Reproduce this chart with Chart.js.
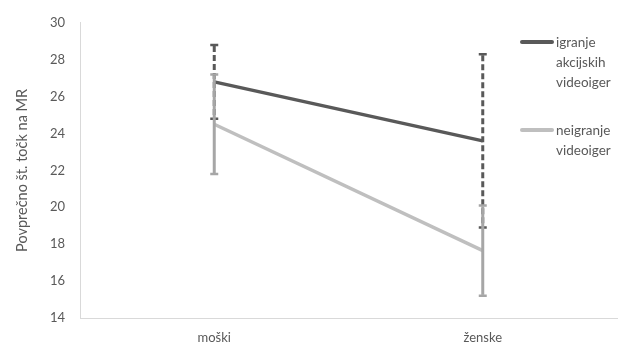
<!DOCTYPE html>
<html>
<head>
<meta charset="utf-8">
<script src="https://cdn.jsdelivr.net/npm/chart.js@4/dist/chart.umd.min.js"></script>
<style>
  html, body { margin: 0; padding: 0; background: #fff; }
  #wrap { position: relative; width: 624px; height: 347px; }
  #legend { position: absolute; left: 520px; top: 0; font-family: Lato, "Open Sans", sans-serif; font-size: 13.5px; color: #595959; }
  .item { position: absolute; left: 0; white-space: nowrap; }
  .swatch { position: absolute; left: 0; width: 34px; height: 4px; border-radius: 2px; }
  .txt { position: absolute; left: 36px; line-height: 20px; }
</style>
</head>
<body>
<div id="wrap">
  <canvas id="c" width="624" height="347"></canvas>
  <div id="legend"></div>
</div>
<script>
// categories and series
const categories = ['moški', 'ženske'];
const seriesNames = [['igranje', 'akcijskih', 'videoiger'], ['neigranje', 'videoiger']];
const gamersMean = [26.8, 23.6];
const gamersErr = [2.0, 4.7];
const nonGamersMean = [24.5, 17.65];
const nonGamersErr = [2.7, 2.45];
const yTicks = [14, 16, 18, 20, 22, 24, 26, 28, 30];

const darkColor = '#595959';
const lightColor = '#bfbfbf';
const lightBarColor = '#a6a6a6';

// vertical error bars with caps, drawn through the chart's own scales
const errorBars = {
  id: 'errorBars',
  afterDatasetsDraw(chart) {
    const ctx = chart.ctx;
    const xs = chart.scales.x, ys = chart.scales.y;
    const bars = [
      { mean: gamersMean, err: gamersErr, color: darkColor, dash: [6, 3] },
      { mean: nonGamersMean, err: nonGamersErr, color: lightBarColor, dash: [] }
    ];
    ctx.save();
    bars.forEach(b => {
      b.mean.forEach((m, i) => {
        const x = xs.getPixelForValue(i);
        const top = ys.getPixelForValue(m + b.err[i]);
        const bot = ys.getPixelForValue(m - b.err[i]);
        ctx.strokeStyle = b.color;
        ctx.lineWidth = 3;
        ctx.setLineDash(b.dash);
        ctx.beginPath();
        ctx.moveTo(x, top + 1);
        ctx.lineTo(x, bot - 1);
        ctx.stroke();
        ctx.setLineDash([]);
        ctx.lineWidth = 2.5;
        ctx.beginPath();
        ctx.moveTo(x - 4, top); ctx.lineTo(x + 4, top);
        ctx.moveTo(x - 4, bot); ctx.lineTo(x + 4, bot);
        ctx.stroke();
      });
    });
    ctx.restore();
  }
};

new Chart(document.getElementById('c'), {
  type: 'line',
  data: {
    labels: categories,
    datasets: [
      { label: seriesNames[0].join(' '), data: gamersMean, borderColor: darkColor, borderWidth: 3.5, pointRadius: 0, tension: 0 },
      { label: seriesNames[1].join(' '), data: nonGamersMean, borderColor: lightColor, borderWidth: 3.5, pointRadius: 0, tension: 0 }
    ]
  },
  options: {
    responsive: false,
    animation: false,
    layout: { padding: { top: 16, right: 7, left: 14, bottom: 0 } },
    plugins: { legend: { display: false }, tooltip: { enabled: false } },
    scales: {
      x: {
        offset: true,
        grid: { display: false, drawTicks: false },
        border: { color: '#d9d9d9', width: 1 },
        ticks: { color: darkColor, font: { family: 'Lato', size: 13 }, padding: 12 },
        afterFit(s) { s.height = 29; }
      },
      y: {
        min: 14, max: 30,
        afterBuildTicks(s) { s.ticks = yTicks.map(v => ({ value: v })); },
        grid: { display: false, drawTicks: false },
        border: { color: '#d9d9d9', width: 1 },
        ticks: { color: darkColor, font: { family: 'Lato', size: 13 }, padding: 15 },
        title: { display: true, text: 'Povprečno št. točk na MR', color: darkColor, font: { family: 'Lato', size: 14.5 }, padding: 0 },
        afterFit(s) { s.width = 66; }
      }
    }
  },
  plugins: [errorBars]
});

// legend with wrapped labels
const legend = document.getElementById('legend');
const legendItems = [
  { lines: seriesNames[0], color: darkColor, top: 32 },
  { lines: seriesNames[1], color: lightColor, top: 120 }
];
legendItems.forEach(it => {
  const d = document.createElement('div');
  d.className = 'item';
  d.style.top = it.top + 'px';
  const sw = document.createElement('div');
  sw.className = 'swatch';
  sw.style.background = it.color;
  sw.style.top = '8px';
  const t = document.createElement('div');
  t.className = 'txt';
  t.innerHTML = it.lines.join('<br>');
  d.appendChild(sw); d.appendChild(t);
  legend.appendChild(d);
});
</script>
</body>
</html>
